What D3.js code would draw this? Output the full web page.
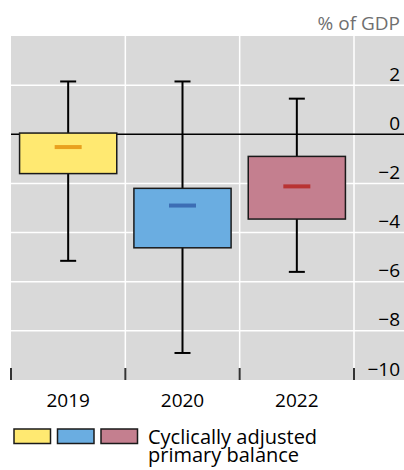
<!DOCTYPE html>
<html>
<head>
<meta charset="utf-8">
<script src="https://cdn.jsdelivr.net/npm/d3@7"></script>
<style>
  body { margin: 0; background: #fff; }
  text { font-family: "Open Sans", "Noto Sans", sans-serif; }
</style>
</head>
<body>
<script>
var width = 404,
    height = 470;

// box plot values, % of GDP
var years = ["2019", "2020", "2022"];
var whiskerHigh = [2.15, 2.15, 1.45];
var boxHigh = [0.05, -2.2, -0.9];
var medians = [-0.52, -2.9, -2.12];
var boxLow = [-1.6, -4.62, -3.45];
var whiskerLow = [-5.15, -8.9, -5.6];
var yTicks = [2, 0, -2, -4, -6, -8, -10];

var fills = ["#ffe971", "#6aade1", "#c47f8f"];
var medianColors = ["#e9a11e", "#3c6db4", "#b93333"];

var FONT = "19px";

var svg = d3.select("body")
    .append("svg")
    .attr("width", width)
    .attr("height", height);

var plotLeft = 11, plotRight = 404, plotTop = 36, plotBottom = 380;

var x = d3.scaleBand()
    .domain(years)
    .range([plotLeft, 354]);

var y = d3.scaleLinear()
    .domain([-10, 4])
    .range([plotBottom, plotTop]);

var data = years.map(function(d, i) {
    return {year: d, hi: whiskerHigh[i], q3: boxHigh[i], med: medians[i],
            q1: boxLow[i], lo: whiskerLow[i], fill: fills[i], mc: medianColors[i]};
});

// background
svg.append("rect")
    .attr("x", plotLeft)
    .attr("y", plotTop)
    .attr("width", plotRight - plotLeft)
    .attr("height", plotBottom - plotTop)
    .attr("fill", "#d9d9d9");

// horizontal grid
svg.selectAll(".hgrid")
    .data(yTicks.filter(function(t) { return t !== 0 && t !== -10; }))
    .enter().append("line")
    .attr("x1", plotLeft).attr("x2", plotRight)
    .attr("y1", function(d) { return y(d); })
    .attr("y2", function(d) { return y(d); })
    .attr("stroke", "#fff")
    .attr("stroke-width", 1.5);

// vertical grid between categories
var bounds = years.slice(1).map(function(d) { return x(d); }).concat([x.range()[1]]);
svg.selectAll(".vgrid")
    .data(bounds)
    .enter().append("line")
    .attr("x1", function(d) { return d; })
    .attr("x2", function(d) { return d; })
    .attr("y1", plotTop).attr("y2", plotBottom)
    .attr("stroke", "#fff")
    .attr("stroke-width", 1.5);

// zero line
svg.append("line")
    .attr("x1", plotLeft).attr("x2", plotRight)
    .attr("y1", y(0)).attr("y2", y(0))
    .attr("stroke", "#000")
    .attr("stroke-width", 1.5);

// bottom ticks
svg.selectAll(".xtick")
    .data([plotLeft].concat(bounds))
    .enter().append("line")
    .attr("x1", function(d) { return d; })
    .attr("x2", function(d) { return d; })
    .attr("y1", plotBottom - 12).attr("y2", plotBottom)
    .attr("stroke", "#333")
    .attr("stroke-width", 2);

// y axis labels
var yAxis = svg.append("g")
    .attr("transform", "translate(400,0)")
    .call(d3.axisLeft(y).tickValues(yTicks).tickSize(0).tickPadding(0));
yAxis.select(".domain").remove();
yAxis.selectAll("text")
    .attr("dy", null)
    .attr("y", -5)
    .attr("fill", "#000")
    .style("font-size", FONT)
    .style("font-family", "'Open Sans', 'Noto Sans', sans-serif");

// x labels
var xAxis = svg.append("g")
    .attr("transform", "translate(0," + plotBottom + ")")
    .call(d3.axisBottom(x).tickSize(0).tickPadding(0));
xAxis.select(".domain").remove();
xAxis.selectAll("text")
    .attr("dy", null)
    .attr("y", 27)
    .attr("fill", "#000")
    .style("font-size", FONT)
    .style("font-family", "'Open Sans', 'Noto Sans', sans-serif");

// unit label
svg.append("text")
    .attr("x", 400)
    .attr("y", 30)
    .attr("text-anchor", "end")
    .attr("fill", "#6f6f6f")
    .style("font-size", FONT)
    .text("% of GDP");

// boxes
var boxW = x.bandwidth() * 0.85;
var capW = 16;
var g = svg.selectAll(".box")
    .data(data)
    .enter().append("g")
    .attr("class", "box")
    .attr("transform", function(d) { return "translate(" + (x(d.year) + x.bandwidth() / 2) + ",0)"; });

g.append("line")
    .attr("x1", 0).attr("x2", 0)
    .attr("y1", function(d) { return y(d.hi); })
    .attr("y2", function(d) { return y(d.lo); })
    .attr("stroke", "#000")
    .attr("stroke-width", 2);

g.append("line")
    .attr("x1", -capW / 2).attr("x2", capW / 2)
    .attr("y1", function(d) { return y(d.hi); })
    .attr("y2", function(d) { return y(d.hi); })
    .attr("stroke", "#000")
    .attr("stroke-width", 2);

g.append("line")
    .attr("x1", -capW / 2).attr("x2", capW / 2)
    .attr("y1", function(d) { return y(d.lo); })
    .attr("y2", function(d) { return y(d.lo); })
    .attr("stroke", "#000")
    .attr("stroke-width", 2);

g.append("rect")
    .attr("x", -boxW / 2)
    .attr("width", boxW)
    .attr("y", function(d) { return y(d.q3); })
    .attr("height", function(d) { return y(d.q1) - y(d.q3); })
    .attr("fill", function(d) { return d.fill; })
    .attr("stroke", "#1a1a1a")
    .attr("stroke-width", 1.5);

g.append("rect")
    .attr("x", -13.5)
    .attr("width", 27)
    .attr("y", function(d) { return y(d.med) - 2; })
    .attr("height", 4)
    .attr("fill", function(d) { return d.mc; });

// legend
var legend = svg.append("g");
legend.selectAll("rect")
    .data(fills)
    .enter().append("rect")
    .attr("x", function(d, i) { return 14 + i * 43.5; })
    .attr("y", 429)
    .attr("width", 36.5)
    .attr("height", 14.5)
    .attr("fill", function(d) { return d; })
    .attr("stroke", "#1a1a1a")
    .attr("stroke-width", 1.5);

legend.append("text")
    .attr("x", 148)
    .attr("y", 444)
    .attr("fill", "#000")
    .style("font-size", "20px")
    .text("Cyclically adjusted");
legend.append("text")
    .attr("x", 148)
    .attr("y", 462)
    .attr("fill", "#000")
    .style("font-size", "20px")
    .text("primary balance");
</script>
</body>
</html>
